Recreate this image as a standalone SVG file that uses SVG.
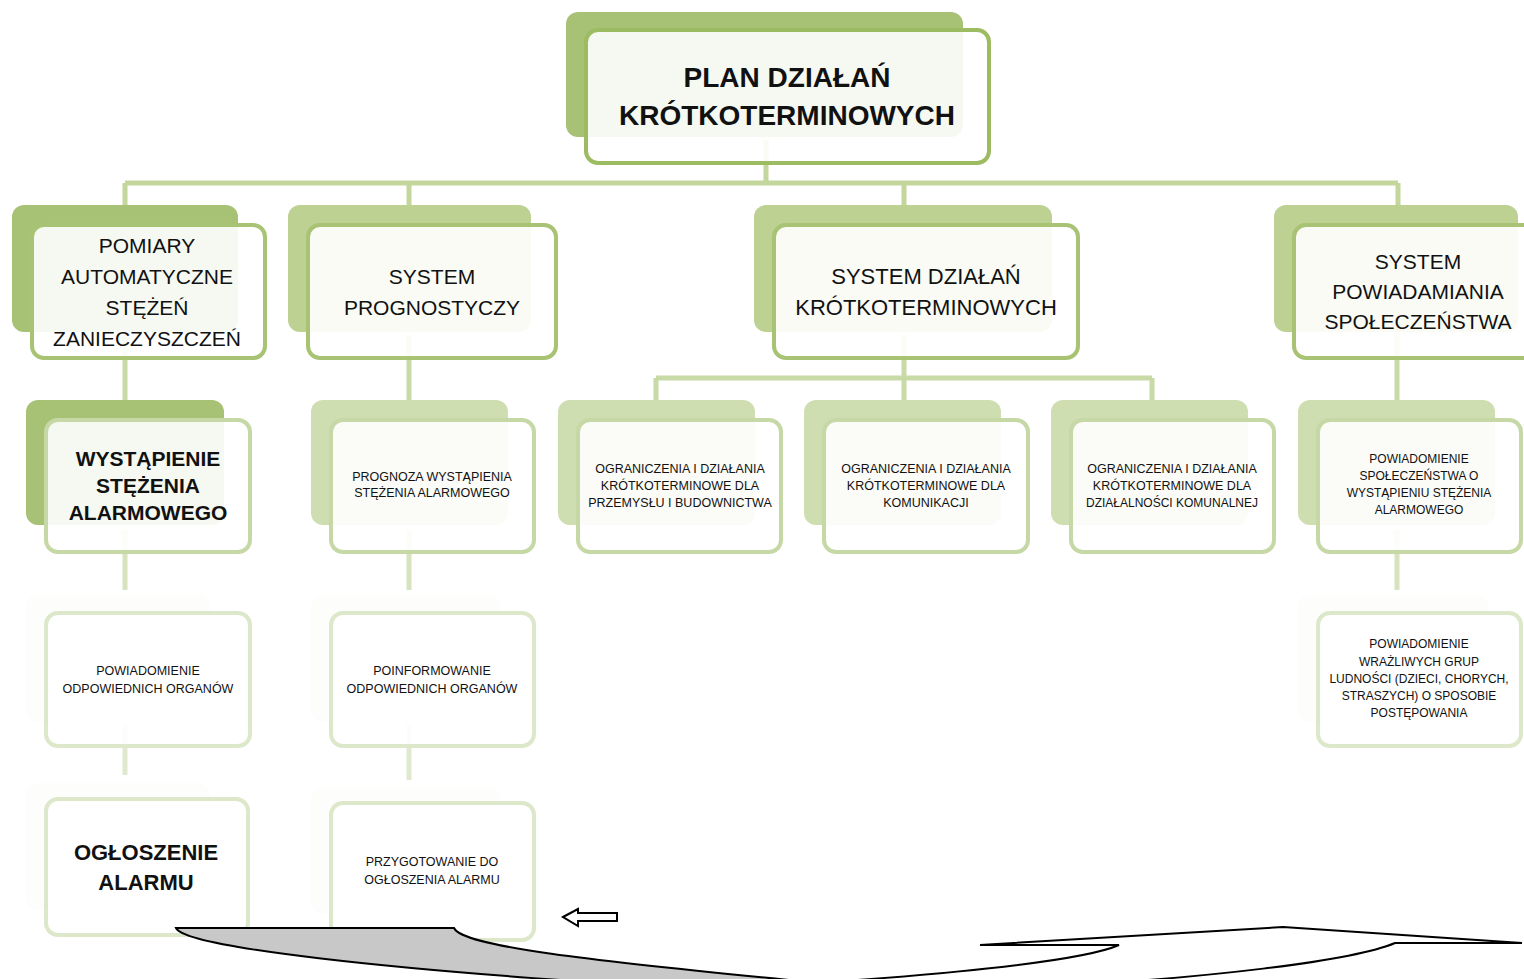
<svg xmlns="http://www.w3.org/2000/svg" width="1524" height="979" viewBox="0 0 1524 979">
<style>
text{font-family:"Liberation Sans",Arial,sans-serif;fill:#111;text-anchor:middle}
.b{font-weight:bold}
.l1{font-size:22px}
.sm{font-size:12.5px}
.xs{font-size:12px}
.front{fill:#fff;fill-opacity:0.9;stroke-width:4}
.f0{stroke:#9DBB61}
.f1{stroke:#A8C374}
.f2{stroke:#C6D8A6}
.f3{stroke:#DDE8CB}
.bk0{fill:#A7C274}
.bk1{fill:#BCD192}
.bk2{fill:#CFDEB1}
.bk3{fill:#FDFDFB}
.c0{stroke:#C3D69B;stroke-width:5;fill:none}
.c1{stroke:#C8DAA6;stroke-width:5;fill:none}
.c2{stroke:#D6E3BE;stroke-width:5;fill:none}
.c3{stroke:#E0E9D0;stroke-width:5;fill:none}
</style>
<rect width="1524" height="979" fill="#fff"/>
<g id="connectors">
<path class="c0" d="M766,140V183M125,183H1398M125,183V205M409,183V205M904,183V205M1398,183V205"/>
<path class="c1" d="M125,335V400M409,335V400M904,335V378M656,378H1152M656,378V400M904,378V400M1152,378V400M1397,335V400"/>
<path class="c2" d="M125,530V590M409,530V590M1397,530V590"/>
<path class="c3" d="M125,725V775M409,725V780"/>
</g>
<g id="n0">
<rect class="bk0" x="566" y="12" width="397" height="125" rx="12"/>
<rect class="front f0" x="586" y="30" width="403" height="133" rx="12"/>
<text class="b" font-size="28" x="787" y="87">PLAN DZIAŁAŃ</text>
<text class="b" font-size="28" x="787" y="125">KRÓTKOTERMINOWYCH</text>
</g>
<g id="n1">
<rect class="bk0" x="12" y="205" width="226" height="127" rx="12"/>
<rect class="front f1" x="32" y="225" width="233" height="133" rx="12"/>
<text font-size="21" x="147" y="253">POMIARY</text>
<text font-size="21" x="147" y="284">AUTOMATYCZNE</text>
<text font-size="21" x="147" y="315">STĘŻEŃ</text>
<text font-size="21" x="147" y="346">ZANIECZYSZCZEŃ</text>
</g>
<g id="n2">
<rect class="bk1" x="288" y="205" width="243" height="127" rx="12"/>
<rect class="front f1" x="308" y="225" width="248" height="133" rx="12"/>
<text font-size="21" x="432" y="284">SYSTEM</text>
<text font-size="21" x="432" y="315">PROGNOSTYCZY</text>
</g>
<g id="n3">
<rect class="bk1" x="754" y="205" width="298" height="127" rx="12"/>
<rect class="front f1" x="774" y="225" width="304" height="133" rx="12"/>
<text class="l1" x="926" y="284">SYSTEM DZIAŁAŃ</text>
<text class="l1" x="926" y="315">KRÓTKOTERMINOWYCH</text>
</g>
<g id="n4">
<rect class="bk1" x="1274" y="205" width="244" height="127" rx="12"/>
<rect class="front f1" x="1294" y="225" width="244" height="133" rx="12"/>
<text font-size="21" x="1418" y="269">SYSTEM</text>
<text font-size="21" x="1418" y="299">POWIADAMIANIA</text>
<text font-size="21" x="1418" y="329">SPOŁECZEŃSTWA</text>
</g>
<g id="n5">
<rect class="bk0" x="26" y="400" width="198" height="125" rx="12"/>
<rect class="front f2" x="46" y="420" width="204" height="132" rx="12"/>
<text class="b" font-size="21" x="148" y="466">WYSTĄPIENIE</text>
<text class="b" font-size="21" x="148" y="493">STĘŻENIA</text>
<text class="b" font-size="21" x="148" y="520">ALARMOWEGO</text>
</g>
<g id="n6">
<rect class="bk2" x="311" y="400" width="197" height="125" rx="12"/>
<rect class="front f2" x="331" y="420" width="203" height="132" rx="12"/>
<text class="sm" x="432" y="481">PROGNOZA WYSTĄPIENIA</text>
<text class="sm" x="432" y="497">STĘŻENIA ALARMOWEGO</text>
</g>
<g id="n7">
<rect class="bk2" x="558" y="400" width="197" height="125" rx="12"/>
<rect class="front f2" x="578" y="420" width="203" height="132" rx="12"/>
<text class="sm" x="680" y="473">OGRANICZENIA I DZIAŁANIA</text>
<text class="sm" x="680" y="490">KRÓTKOTERMINOWE DLA</text>
<text class="sm" x="680" y="507">PRZEMYSŁU I BUDOWNICTWA</text>
</g>
<g id="n8">
<rect class="bk2" x="804" y="400" width="197" height="125" rx="12"/>
<rect class="front f2" x="824" y="420" width="204" height="132" rx="12"/>
<text class="sm" x="926" y="473">OGRANICZENIA I DZIAŁANIA</text>
<text class="sm" x="926" y="490">KRÓTKOTERMINOWE DLA</text>
<text class="sm" x="926" y="507">KOMUNIKACJI</text>
</g>
<g id="n9">
<rect class="bk2" x="1051" y="400" width="197" height="125" rx="12"/>
<rect class="front f2" x="1071" y="420" width="203" height="132" rx="12"/>
<text class="sm" x="1172" y="473">OGRANICZENIA I DZIAŁANIA</text>
<text class="sm" x="1172" y="490">KRÓTKOTERMINOWE DLA</text>
<text class="xs" x="1172" y="507">DZIAŁALNOŚCI KOMUNALNEJ</text>
</g>
<g id="n10">
<rect class="bk2" x="1298" y="400" width="197" height="125" rx="12"/>
<rect class="front f2" x="1318" y="420" width="203" height="132" rx="12"/>
<text class="xs" x="1419" y="463">POWIADOMIENIE</text>
<text class="xs" x="1419" y="480">SPOŁECZEŃSTWA O</text>
<text class="xs" x="1419" y="497">WYSTĄPIENIU STĘŻENIA</text>
<text class="xs" x="1419" y="514">ALARMOWEGO</text>
</g>
<g id="n11">
<rect class="bk3" x="26" y="595" width="184" height="127" rx="12"/>
<rect class="front f3" x="46" y="613" width="204" height="133" rx="12"/>
<text class="sm" x="148" y="675">POWIADOMIENIE</text>
<text class="sm" x="148" y="693">ODPOWIEDNICH ORGANÓW</text>
</g>
<g id="n12">
<rect class="bk3" x="311" y="595" width="190" height="127" rx="12"/>
<rect class="front f3" x="331" y="613" width="203" height="133" rx="12"/>
<text class="sm" x="432" y="675">POINFORMOWANIE</text>
<text class="sm" x="432" y="693">ODPOWIEDNICH ORGANÓW</text>
</g>
<g id="n13">
<rect class="bk3" x="1298" y="595" width="190" height="127" rx="12"/>
<rect class="front f3" x="1318" y="613" width="203" height="133" rx="12"/>
<text class="xs" x="1419" y="648">POWIADOMIENIE</text>
<text class="xs" x="1419" y="666">WRAŻLIWYCH GRUP</text>
<text class="xs" x="1419" y="683">LUDNOŚCI (DZIECI, CHORYCH,</text>
<text class="xs" x="1419" y="700">STRASZYCH) O SPOSOBIE</text>
<text class="xs" x="1419" y="717">POSTĘPOWANIA</text>
</g>
<g id="n14">
<rect class="bk3" x="26" y="783" width="184" height="127" rx="12"/>
<rect class="front f3" x="46" y="799" width="202" height="136" rx="12"/>
<text class="b" font-size="22" x="146" y="860">OGŁOSZENIE</text>
<text class="b" font-size="22" x="146" y="890">ALARMU</text>
</g>
<g id="n15">
<rect class="bk3" x="311" y="787" width="190" height="127" rx="12"/>
<rect class="front f3" x="331" y="803" width="203" height="137" rx="12"/>
<text class="sm" x="432" y="866">PRZYGOTOWANIE DO</text>
<text class="sm" x="432" y="884">OGŁOSZENIA ALARMU</text>
</g>
<g id="arrows" stroke="#000" stroke-width="2" stroke-linejoin="miter">
<path d="M563,917L578,909V913H617V921H578V926Z" fill="#fff"/>
<path d="M176,928H454C462,946 580,960 830,984H620C400,970 185,948 176,928Z" fill="#C8C8C8"/>
<path d="M770,986C960,974 1085,960 1119,945H980L1283,927L1522,943H1395C1350,962 1200,978 1060,986" fill="#fff"/>
</g>
</svg>
